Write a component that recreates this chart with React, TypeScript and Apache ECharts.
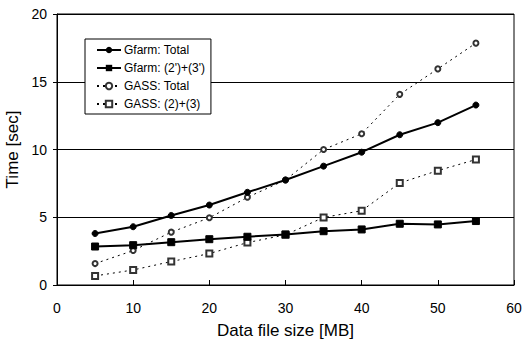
import React, { useEffect, useRef } from "react";
import * as echarts from "echarts";

const xValues = [5, 10, 15, 20, 25, 30, 35, 40, 45, 50, 55];
const gfarmTotal = [3.8, 4.3, 5.13, 5.9, 6.84, 7.75, 8.77, 9.8, 11.09, 11.98, 13.28];
const gfarmPart = [2.84, 2.94, 3.16, 3.38, 3.56, 3.73, 3.97, 4.1, 4.52, 4.47, 4.72];
const gassTotal = [1.58, 2.54, 3.9, 4.96, 6.47, 7.75, 10.0, 11.16, 14.07, 15.95, 17.85];
const gassPart = [0.67, 1.11, 1.73, 2.32, 3.13, 3.7, 4.99, 5.48, 7.53, 8.44, 9.26];
const seriesNames = ["Gfarm: Total", "Gfarm: (2')+(3')", "GASS: Total", "GASS: (2)+(3)"];

const pairs = (ys: number[]) => xValues.map((x, i) => [x, ys[i]]);

export default function App() {
  const ref = useRef<HTMLDivElement>(null);
  useEffect(() => {
    const chart = echarts.init(ref.current!, null, { renderer: "svg" });
    const font = "Liberation Sans, Arial, sans-serif";
    chart.setOption({
      animation: false,
      backgroundColor: "#fff",
      textStyle: { fontFamily: font },
      grid: {
        left: 57, top: 14, right: 9, bottom: 56,
        show: true, borderColor: "#000", borderWidth: 1,
        containLabel: false, outerBoundsMode: "none",
      },
      legend: {
        left: 85,
        top: 39,
        orient: "vertical",
        backgroundColor: "#fff",
        borderColor: "#000",
        borderWidth: 1,
        padding: [5, 6, 4, 11],
        itemWidth: 24,
        itemHeight: 8,
        itemGap: 6,
        textStyle: { fontFamily: font, fontSize: 12, color: "#000", padding: [0, 0, 0, -2] },
        data: seriesNames,
      },
      xAxis: {
        type: "value",
        min: 0,
        max: 60,
        interval: 10,
        name: "Data file size [MB]",
        nameLocation: "middle",
        nameGap: 37,
        nameTextStyle: { fontSize: 17, color: "#000", fontFamily: font },
        axisLine: { lineStyle: { color: "#000", width: 1 } },
        axisTick: { inside: true, length: 5, lineStyle: { color: "#000" } },
        axisLabel: { color: "#000", fontSize: 14, margin: 16, fontFamily: font },
        splitLine: { show: false },
      },
      yAxis: {
        type: "value",
        min: 0,
        max: 20,
        interval: 5,
        name: "Time [sec]",
        nameLocation: "middle",
        nameGap: 33,
        nameRotate: 90,
        nameTextStyle: { fontSize: 17, color: "#000", fontFamily: font },
        axisLine: { show: true, lineStyle: { color: "#000", width: 1 } },
        axisTick: { show: true, inside: false, length: 4, lineStyle: { color: "#000" } },
        axisLabel: { color: "#000", fontSize: 14, margin: 10, fontFamily: font },
        splitLine: { show: true, lineStyle: { color: "#000", width: 1 } },
      },
      series: [
        {
          name: seriesNames[0],
          type: "line",
          data: pairs(gfarmTotal),
          symbol: "circle",
          symbolSize: 6,
          lineStyle: { color: "#000", width: 2 },
          itemStyle: { color: "#000", borderColor: "#000" },
          z: 4,
        },
        {
          name: seriesNames[1],
          type: "line",
          data: pairs(gfarmPart),
          symbol: "rect",
          symbolSize: 7,
          lineStyle: { color: "#000", width: 2 },
          itemStyle: { color: "#000", borderColor: "#000" },
          z: 4,
        },
        {
          name: seriesNames[2],
          type: "line",
          data: pairs(gassTotal),
          symbol: "emptyCircle",
          symbolSize: 5,
          lineStyle: { color: "#000", width: 1, type: [2, 4] },
          itemStyle: { color: "#333", borderColor: "#333", borderWidth: 1 },
          z: 3,
        },
        {
          name: seriesNames[3],
          type: "line",
          data: pairs(gassPart),
          symbol: "emptyRect",
          symbolSize: 6,
          lineStyle: { color: "#000", width: 1, type: [2, 4] },
          itemStyle: { color: "#333", borderColor: "#333", borderWidth: 1 },
          z: 3,
        },
      ],
    });
    return () => chart.dispose();
  }, []);
  return <div ref={ref} style={{ width: 523, height: 341, position: "absolute", left: 0, top: 0 }} />;
}
